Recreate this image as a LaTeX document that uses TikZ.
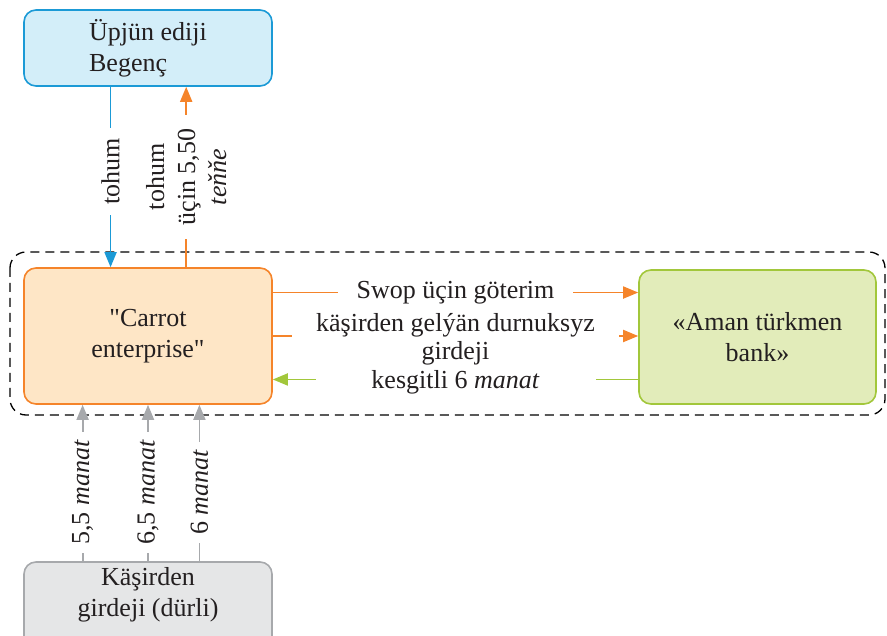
\documentclass[tikz,border=0pt]{standalone}
\usepackage{fontspec}
\setmainfont[Ligatures=TeXOff]{Liberation Serif}
\usetikzlibrary{arrows.meta,calc}

\definecolor{txt}{HTML}{231F20}
\definecolor{cyanline}{HTML}{1B9AD6}
\definecolor{cyanfill}{HTML}{D3EEF9}
\definecolor{orline}{HTML}{F5842A}
\definecolor{orfill}{HTML}{FEE6C6}
\definecolor{grline}{HTML}{A2C73B}
\definecolor{grfill}{HTML}{E2ECBA}
\definecolor{gyline}{HTML}{A7A9AC}
\definecolor{gyfill}{HTML}{E5E6E7}

\tikzset{
	box/.style={draw, rounded corners=12pt, line width=1.6pt, minimum width=248pt, align=center},
	flow/.style={line width=1.8pt, -{Triangle[length=15pt,width=12pt]}},
	lbl/.style={fill=white, text=txt, inner xsep=10pt, inner ysep=1pt, align=center}
}

\begin{document}
\begin{tikzpicture}[x=1pt, y=-1pt, font=\fontsize{26}{31}\selectfont, text=txt]
	\clip (0,0) rectangle (887,636);

	% Boxes
	\node[box, draw=cyanline, fill=cyanfill, minimum height=76pt, align=left] (ediji) at (148,48) {Üpjün ediji\\Begenç};
	\node[box, draw=orline, fill=orfill, minimum height=136pt] (carrot) at (148,336) {"Carrot\\enterprise"};
	\node[box, draw=grline, fill=grfill, minimum width=237pt, minimum height=134pt] (bank) at (757.5,337) {«Aman türkmen\\bank»};
	\node[box, draw=gyline, fill=gyfill, minimum height=90pt] (kasir) at (148,607) {};
	\node[align=center] (kasirtext) at (148,595) {Käşirden\\girdeji (dürli)};

	% Dashed frame
	\draw[dash pattern=on 9pt off 6pt, line width=1.3pt, rounded corners=16pt] (10,252) rectangle (885,415);

	% Supplier flows
	\coordinate (v1) at ($(carrot.north west)!0.35!(carrot.north east)$);
	\coordinate (v2) at ($(carrot.north west)!0.653!(carrot.north east)$);
	\draw[flow, cyanline] (v1 |- ediji.south) -- (v1)
		node[lbl, rotate=90, pos=0.47] {tohum};
	\draw[flow, orline] (v2) -- (v2 |- ediji.south)
		node[lbl, rotate=90, midway, inner xsep=14pt] {tohum\\üçin 5,50\\\textit{teňňe}};

	% Bank flows
	\coordinate (h1) at ($(carrot.north east)!0.184!(carrot.south east)$);
	\coordinate (h2) at (carrot.east);
	\coordinate (h3) at ($(carrot.north east)!0.816!(carrot.south east)$);
	\draw[flow, orline] (h1) -- (h1 -| bank.west)
		node[lbl, midway, minimum width=235pt] {Swop üçin göterim};
	\draw[flow, grline] (h3 -| bank.west) -- (h3)
		node[lbl, midway, minimum width=280pt, yshift=-3pt] {kesgitli 6 \textit{manat}};
	\draw[flow, orline] (h2) -- (h2 -| bank.west)
		node[lbl, midway, minimum width=327pt, yshift=-3pt, font=\fontsize{26}{28}\selectfont] {käşirden gelýän durnuksyz\\girdeji};

	% Sales flows
	\draw[flow, gyline] ($(kasir.north west)!0.238!(kasir.north east)$) -- ($(carrot.south west)!0.238!(carrot.south east)$)
		node[lbl, rotate=90, pos=0.44, inner xsep=8pt] {5,5 \textit{manat}};
	\draw[flow, gyline] ($(kasir.north west)!0.5!(kasir.north east)$) -- ($(carrot.south west)!0.5!(carrot.south east)$)
		node[lbl, rotate=90, pos=0.44, inner xsep=8pt] {6,5 \textit{manat}};
	\draw[flow, gyline] ($(kasir.north west)!0.706!(kasir.north east)$) -- ($(carrot.south west)!0.706!(carrot.south east)$)
		node[lbl, rotate=90, pos=0.44, inner xsep=8pt] {6 \textit{manat}};
\end{tikzpicture}
\end{document}
